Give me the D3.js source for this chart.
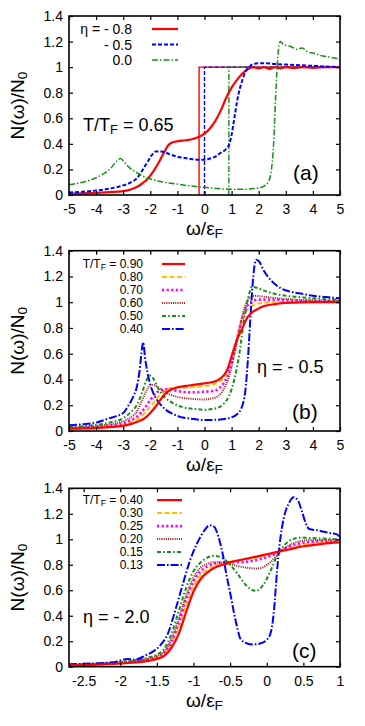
<!DOCTYPE html>
<html>
<head>
<meta charset="utf-8">
<script src="https://cdn.jsdelivr.net/npm/d3@7"></script>
<style>
  body { margin: 0; background: #fff; }
  svg { font-family: "Liberation Sans", Arial, Helvetica, sans-serif; }
</style>
</head>
<body>
<svg id="chart" width="365" height="726"></svg>
<script>
// shared ticks
const yTicks = [0, 0.2, 0.4, 0.6, 0.8, 1, 1.2, 1.4];
const abXTicks = [-5, -4, -3, -2, -1, 0, 1, 2, 3, 4, 5];
const cXTicks = [-2.5, -2, -1.5, -1, -0.5, 0, 0.5, 1];

// (a) T/TF = 0.65, three couplings
const aLabels = ["η = - 0.8", "- 0.5", "0.0"];
const aEta08 = [[-5,0.01],[-4.5,0.012],[-4,0.016],[-3.5,0.022],[-3,0.03],[-2.7,0.045],[-2.5,0.062],[-2.3,0.09],[-2.1,0.125],[-1.9,0.18],[-1.7,0.25],[-1.5,0.33],[-1.35,0.385],[-1.2,0.41],[-1,0.42],[-0.7,0.428],[-0.4,0.44],[-0.2,0.455],[0,0.48],[0.2,0.52],[0.4,0.58],[0.6,0.66],[0.8,0.76],[1,0.84],[1.2,0.9],[1.4,0.95],[1.6,0.985],[1.8,1.0],[2,0.99],[2.2,1.0],[2.4,0.985],[2.6,1.0],[2.8,0.99],[3,1.0],[3.3,0.993],[3.6,1.0],[4,0.995],[4.5,1.0],[5,1.0]];
const aEta05 = [[-5,0.02],[-4.5,0.025],[-4,0.035],[-3.5,0.05],[-3,0.075],[-2.7,0.1],[-2.5,0.13],[-2.3,0.19],[-2.1,0.26],[-1.95,0.31],[-1.8,0.34],[-1.6,0.34],[-1.3,0.32],[-1,0.3],[-0.6,0.285],[-0.2,0.275],[0,0.275],[0.2,0.285],[0.4,0.3],[0.6,0.33],[0.8,0.36],[0.9,0.39],[1,0.47],[1.1,0.6],[1.2,0.73],[1.3,0.83],[1.4,0.9],[1.5,0.96],[1.6,0.99],[1.8,1.025],[2,1.03],[2.3,1.03],[2.6,1.025],[3,1.02],[3.5,1.015],[4,1.01],[4.5,1.005],[5,1.0]];
const aEta00 = [[-5,0.08],[-4.5,0.1],[-4,0.135],[-3.7,0.17],[-3.5,0.2],[-3.3,0.25],[-3.1,0.285],[-2.95,0.255],[-2.8,0.22],[-2.5,0.175],[-2.2,0.14],[-2,0.125],[-1.5,0.1],[-1,0.085],[-0.5,0.07],[0,0.06],[0.5,0.05],[1,0.045],[1.5,0.045],[1.8,0.05],[2,0.055],[2.2,0.07],[2.35,0.1],[2.45,0.17],[2.55,0.4],[2.62,0.75],[2.68,1.0],[2.75,1.17],[2.8,1.2],[2.9,1.18],[3,1.17],[3.2,1.16],[3.4,1.14],[3.6,1.15],[3.8,1.12],[4,1.11],[4.3,1.09],[4.6,1.08],[5,1.06]];
// free-gas step edges for the three couplings
const aEdges = [-0.2, 0.0, 0.9];

// (b) eta = -0.5, six temperatures
const bLabels = ["T/T_F = 0.90", "0.80", "0.70", "0.60", "0.50", "0.40"];
const bT090 = [[-5,0.018],[-4.5,0.02],[-4,0.023],[-3.5,0.03],[-3,0.04],[-2.7,0.055],[-2.5,0.07],[-2.2,0.1],[-2,0.14],[-1.8,0.19],[-1.6,0.25],[-1.4,0.3],[-1.2,0.325],[-1,0.34],[-0.5,0.355],[0,0.37],[0.3,0.38],[0.5,0.395],[0.7,0.43],[0.85,0.48],[1,0.58],[1.2,0.71],[1.4,0.8],[1.55,0.87],[1.7,0.91],[1.9,0.94],[2.2,0.97],[2.6,0.985],[3,0.995],[4,1.0],[5,1.0]];
const bT080 = [[-5,0.02],[-4,0.027],[-3,0.05],[-2.7,0.07],[-2.5,0.09],[-2.2,0.14],[-2,0.19],[-1.8,0.24],[-1.6,0.29],[-1.4,0.32],[-1.2,0.335],[-1,0.335],[-0.5,0.34],[0,0.35],[0.3,0.36],[0.5,0.375],[0.7,0.41],[0.85,0.47],[1,0.57],[1.2,0.72],[1.4,0.86],[1.55,0.93],[1.7,0.965],[2,0.99],[2.5,1.0],[3,1.0],[5,1.0]];
const bT070 = [[-5,0.022],[-4,0.032],[-3,0.06],[-2.7,0.085],[-2.5,0.11],[-2.2,0.18],[-2,0.24],[-1.8,0.29],[-1.6,0.32],[-1.4,0.325],[-1.2,0.32],[-1,0.31],[-0.5,0.3],[0,0.305],[0.3,0.31],[0.5,0.325],[0.7,0.37],[0.85,0.43],[1,0.53],[1.2,0.71],[1.4,0.88],[1.55,0.96],[1.7,1.0],[2,1.02],[2.5,1.02],[3,1.015],[4,1.01],[5,1.005]];
const bT060 = [[-5,0.025],[-4,0.038],[-3,0.075],[-2.7,0.11],[-2.5,0.15],[-2.3,0.24],[-2.1,0.33],[-2,0.36],[-1.85,0.355],[-1.6,0.32],[-1.3,0.285],[-1,0.265],[-0.5,0.25],[0,0.245],[0.3,0.255],[0.5,0.27],[0.7,0.32],[0.85,0.39],[1,0.5],[1.2,0.7],[1.4,0.9],[1.55,1.0],[1.7,1.04],[1.85,1.05],[2.1,1.045],[2.5,1.035],[3,1.025],[4,1.015],[5,1.01]];
const bT050 = [[-5,0.03],[-4.5,0.037],[-4,0.048],[-3.5,0.065],[-3,0.1],[-2.7,0.15],[-2.5,0.2],[-2.3,0.3],[-2.15,0.39],[-2,0.43],[-1.9,0.41],[-1.7,0.33],[-1.5,0.27],[-1.2,0.22],[-0.8,0.185],[-0.3,0.17],[0,0.165],[0.4,0.175],[0.7,0.21],[0.9,0.27],[1.1,0.4],[1.3,0.62],[1.45,0.85],[1.6,1.02],[1.75,1.12],[1.9,1.115],[2.2,1.09],[2.5,1.07],[3,1.05],[3.5,1.04],[4,1.03],[5,1.02]];
const bT040 = [[-5,0.045],[-4.5,0.052],[-4,0.065],[-3.5,0.1],[-3,0.14],[-2.8,0.2],[-2.6,0.28],[-2.5,0.34],[-2.4,0.46],[-2.3,0.65],[-2.26,0.69],[-2.2,0.58],[-2.1,0.45],[-2,0.36],[-1.9,0.3],[-1.75,0.24],[-1.6,0.2],[-1.4,0.16],[-1.2,0.135],[-0.9,0.11],[-0.5,0.095],[0,0.085],[0.5,0.088],[0.9,0.1],[1.2,0.13],[1.4,0.2],[1.5,0.3],[1.6,0.55],[1.7,0.9],[1.8,1.2],[1.9,1.33],[2,1.32],[2.2,1.24],[2.5,1.16],[2.8,1.11],[3.2,1.08],[3.6,1.065],[4,1.05],[4.5,1.04],[5,1.03]];

// (c) eta = -2.0, six temperatures
const cLabels = ["T/T_F = 0.40", "0.30", "0.25", "0.20", "0.15", "0.13"];
const cT040 = [[-2.7,0.01],[-2.4,0.015],[-2.1,0.022],[-1.8,0.033],[-1.6,0.048],[-1.5,0.06],[-1.4,0.085],[-1.3,0.15],[-1.2,0.26],[-1.1,0.43],[-1,0.59],[-0.9,0.69],[-0.8,0.745],[-0.7,0.78],[-0.6,0.8],[-0.5,0.82],[-0.3,0.845],[-0.1,0.87],[0.1,0.895],[0.3,0.92],[0.5,0.945],[0.7,0.96],[0.85,0.97],[1,0.975]];
const cT030 = [[-2.7,0.012],[-2.4,0.017],[-2.1,0.025],[-1.8,0.037],[-1.6,0.055],[-1.5,0.07],[-1.4,0.1],[-1.3,0.18],[-1.2,0.31],[-1.1,0.48],[-1,0.63],[-0.9,0.72],[-0.8,0.765],[-0.7,0.795],[-0.6,0.81],[-0.5,0.825],[-0.3,0.84],[-0.1,0.86],[0.1,0.89],[0.3,0.93],[0.5,0.96],[0.7,0.975],[1,0.98]];
const cT025 = [[-2.7,0.013],[-2.4,0.018],[-2.1,0.027],[-1.8,0.04],[-1.6,0.06],[-1.5,0.075],[-1.4,0.11],[-1.3,0.2],[-1.2,0.35],[-1.1,0.53],[-1,0.67],[-0.9,0.75],[-0.8,0.79],[-0.7,0.81],[-0.6,0.82],[-0.5,0.82],[-0.35,0.82],[-0.2,0.83],[-0.05,0.85],[0.1,0.88],[0.25,0.93],[0.4,0.96],[0.6,0.98],[0.8,0.985],[1,0.985]];
const cT020 = [[-2.7,0.014],[-2.4,0.02],[-2.1,0.03],[-1.8,0.045],[-1.6,0.065],[-1.5,0.085],[-1.4,0.12],[-1.3,0.22],[-1.2,0.38],[-1.1,0.56],[-1,0.7],[-0.9,0.78],[-0.8,0.81],[-0.7,0.82],[-0.55,0.81],[-0.4,0.79],[-0.25,0.775],[-0.15,0.77],[-0.05,0.78],[0.05,0.82],[0.15,0.88],[0.3,0.95],[0.45,0.985],[0.6,0.995],[0.8,0.995],[1,0.99]];
const cT015 = [[-2.7,0.015],[-2.4,0.022],[-2.1,0.033],[-1.8,0.05],[-1.6,0.075],[-1.5,0.095],[-1.4,0.14],[-1.3,0.26],[-1.2,0.44],[-1.1,0.62],[-1,0.75],[-0.9,0.82],[-0.8,0.86],[-0.72,0.87],[-0.6,0.85],[-0.5,0.8],[-0.4,0.73],[-0.3,0.65],[-0.15,0.595],[-0.05,0.64],[0.05,0.75],[0.15,0.88],[0.25,0.96],[0.35,1.0],[0.45,1.012],[0.6,1.01],[0.8,1.005],[1,1.0]];
const cT013 = [[-2.7,0.02],[-2.4,0.025],[-2.1,0.035],[-1.9,0.06],[-1.8,0.055],[-1.65,0.09],[-1.55,0.12],[-1.45,0.17],[-1.35,0.26],[-1.25,0.44],[-1.15,0.64],[-1.05,0.83],[-0.95,0.97],[-0.85,1.07],[-0.78,1.11],[-0.72,1.1],[-0.66,1.02],[-0.6,0.88],[-0.55,0.72],[-0.5,0.58],[-0.45,0.43],[-0.4,0.3],[-0.36,0.22],[-0.3,0.19],[-0.2,0.175],[-0.1,0.18],[0,0.21],[0.06,0.28],[0.1,0.45],[0.14,0.75],[0.18,0.98],[0.23,1.16],[0.3,1.28],[0.37,1.33],[0.43,1.3],[0.48,1.22],[0.53,1.13],[0.58,1.08],[0.7,1.07],[0.85,1.05],[0.95,1.04],[1,1.02]];

// gnuplot-like line types
const styles = {
  red:     { color: "#ff0000", dash: null, width: 2.2 },
  blueA:   { color: "#0000ff", dash: "4,2", width: 2 },
  greenA:  { color: "#169016", dash: "6,2,1.5,2", width: 1.5 },
  yellow:  { color: "#ffc000", dash: "5,2.5", width: 2 },
  magenta: { color: "#ff00ff", dash: "2.2,2.4", width: 2.6 },
  brown:   { color: "#a52a2a", dash: "1.1,1.1", width: 2 },
  green:   { color: "#169016", dash: "4,2.2,1.6,2.2", width: 2 },
  blue:    { color: "#0000ff", dash: "8,2,1.6,2", width: 2 }
};

const svg = d3.select("svg#chart");
const left = 69, right = 340;

const panels = [
  {
    top: 16, bottom: 195, xDomain: [-5, 5], xTicks: abXTicks,
    series: [aEta08, aEta05, aEta00], kinds: ["red", "blueA", "greenA"],
    edges: aEdges, edgeKinds: ["red", "blueA", "greenA"],
    labels: aLabels, legendFont: 14, legendTextX: 63, legendX: [83, 109], legendY0: 13, legendDy: 15.5,
    notes: [
      { text: "T/T_F = 0.65", x: 14, y: 115, size: 18 },
      { text: "(a)", x: 224, y: 164, size: 21 }
    ]
  },
  {
    top: 250.7, bottom: 431, xDomain: [-5, 5], xTicks: abXTicks,
    series: [bT090, bT080, bT070, bT060, bT050, bT040],
    kinds: ["red", "yellow", "magenta", "brown", "green", "blue"],
    labels: bLabels, legendFont: 12, legendTextX: 74, legendX: [93, 116], legendY0: 13.3, legendDy: 13,
    notes: [
      { text: "η = - 0.5", x: 188, y: 122, size: 18 },
      { text: "(b)", x: 223, y: 168, size: 21 }
    ]
  },
  {
    top: 488.3, bottom: 666.7, xDomain: [-2.7, 1], xTicks: cXTicks,
    series: [cT040, cT030, cT025, cT020, cT015, cT013],
    kinds: ["red", "yellow", "magenta", "brown", "green", "blue"],
    labels: cLabels, legendFont: 12, legendTextX: 74, legendX: [88, 113], legendY0: 11.8, legendDy: 13,
    notes: [
      { text: "η = - 2.0", x: 14, y: 134.5, size: 18 },
      { text: "(c)", x: 223, y: 170, size: 21 }
    ]
  }
];

// write "A_B" as A with subscript B
function richText(sel, str, size) {
  const parts = str.split(/_(\w)/);
  parts.forEach((p, i) => {
    if (!p) return;
    if (i % 2 === 1) {
      sel.append("tspan").attr("baseline-shift", "-22%").attr("font-size", size * 0.72).text(p);
    } else {
      sel.append("tspan").text(p);
    }
  });
  return sel;
}

const fmt = (d) => String(+d.toFixed(1));

panels.forEach((p, k) => {
  const width = right - left, height = p.bottom - p.top;
  const g = svg.append("g").attr("transform", `translate(${left}, ${p.top})`);

  const x = d3.scaleLinear().domain(p.xDomain).range([0, width]);
  const y = d3.scaleLinear().domain([0, 1.4]).range([height, 0]);

  const clipId = `clip${k}`;
  g.append("clipPath").attr("id", clipId)
    .append("rect").attr("width", width).attr("height", height);

  const line = d3.line().x((d) => x(d[0])).y((d) => y(d[1])).curve(d3.curveMonotoneX);
  const stepLine = d3.line().x((d) => x(d[0])).y((d) => y(d[1]));

  const plot = g.append("g").attr("clip-path", `url(#${clipId})`);

  if (p.edges) {
    p.edges.forEach((e, i) => {
      const st = styles[p.edgeKinds[i]];
      plot.append("path")
        .datum([[e, 0], [e, 1], [p.xDomain[1], 1]])
        .attr("d", stepLine)
        .attr("fill", "none")
        .attr("stroke", st.color)
        .attr("stroke-width", 1.4)
        .attr("stroke-dasharray", st.dash);
    });
  }

  p.series.forEach((s, i) => {
    const st = styles[p.kinds[i]];
    plot.append("path")
      .datum(s)
      .attr("class", `s${i}`)
      .attr("d", line)
      .attr("fill", "none")
      .attr("stroke", st.color)
      .attr("stroke-width", st.width)
      .attr("stroke-dasharray", st.dash);
  });
  // keep the solid red on top in (b) and (c)
  if (k > 0) plot.select("path.s0").raise();

  // axes with inward ticks
  g.append("g")
    .attr("transform", `translate(0, ${height})`)
    .call(d3.axisBottom(x).tickValues(p.xTicks).tickFormat(fmt).tickSizeInner(-4).tickSizeOuter(0).tickPadding(9))
    .call((a) => {
      a.select(".domain").remove();
      a.selectAll(".tick text").attr("font-size", "14px").attr("fill", "#000").attr("font-family", null);
      a.selectAll(".tick line").attr("stroke", "#000").attr("stroke-width", 1.2);
    });
  g.append("g")
    .call(d3.axisTop(x).tickValues(p.xTicks).tickFormat("").tickSizeInner(-4).tickSizeOuter(0))
    .call((a) => {
      a.select(".domain").remove();
      a.selectAll(".tick line").attr("stroke", "#000").attr("stroke-width", 1.2);
    });
  g.append("g")
    .call(d3.axisLeft(y).tickValues(yTicks).tickFormat(fmt).tickSizeInner(-4).tickSizeOuter(0).tickPadding(6))
    .call((a) => {
      a.select(".domain").remove();
      a.selectAll(".tick text").attr("font-size", "14px").attr("fill", "#000").attr("font-family", null);
      a.selectAll(".tick line").attr("stroke", "#000").attr("stroke-width", 1.2);
    });
  g.append("g")
    .attr("transform", `translate(${width}, 0)`)
    .call(d3.axisRight(y).tickValues(yTicks).tickFormat("").tickSizeInner(-4).tickSizeOuter(0))
    .call((a) => {
      a.select(".domain").remove();
      a.selectAll(".tick line").attr("stroke", "#000").attr("stroke-width", 1.2);
    });

  g.append("rect")
    .attr("width", width).attr("height", height)
    .attr("fill", "none").attr("stroke", "#000").attr("stroke-width", 1.6);

  // axis titles
  richText(
    g.append("text").attr("x", width / 2).attr("y", height + 40)
      .attr("text-anchor", "middle").attr("font-size", 19),
    "ω/ε_F", 19);
  richText(
    g.append("text").attr("transform", `translate(${24 - left}, ${height / 2}) rotate(-90)`)
      .attr("text-anchor", "middle").attr("font-size", 19),
    "N(ω)/N_0", 19);

  // legend
  p.labels.forEach((lab, i) => {
    const st = styles[p.kinds[i]];
    const ly = p.legendY0 + i * p.legendDy;
    richText(
      g.append("text").attr("x", p.legendTextX).attr("y", ly + p.legendFont * 0.36)
        .attr("text-anchor", "end").attr("font-size", p.legendFont),
      lab, p.legendFont);
    g.append("line")
      .attr("x1", p.legendX[0]).attr("x2", p.legendX[1])
      .attr("y1", ly).attr("y2", ly)
      .attr("stroke", st.color).attr("stroke-width", st.width)
      .attr("stroke-dasharray", st.dash);
  });

  p.notes.forEach((n) => {
    richText(
      g.append("text").attr("x", n.x).attr("y", n.y).attr("font-size", n.size),
      n.text, n.size);
  });
});
</script>
</body>
</html>
